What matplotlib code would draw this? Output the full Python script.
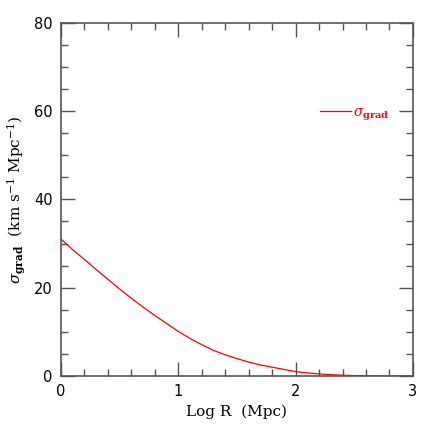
import matplotlib
matplotlib.use('Agg')
import matplotlib.pyplot as plt
from matplotlib.ticker import MultipleLocator

# Estimated from the reference curve
log_r = [0.0, 0.1, 0.2, 0.3, 0.4, 0.5, 0.6, 0.7, 0.8, 0.9, 1.0,
         1.1, 1.2, 1.3, 1.4, 1.5, 1.6, 1.7, 1.8, 1.9, 2.0,
         2.1, 2.2, 2.3, 2.4, 2.5, 2.6, 2.7, 2.8, 2.9, 3.0]
sigma_grad = [31.0, 28.6, 26.4, 24.1, 21.9, 19.7, 17.6, 15.6, 13.7, 11.9, 10.1,
              8.5, 7.1, 5.8, 4.8, 3.95, 3.15, 2.5, 2.0, 1.5, 1.0,
              0.7, 0.47, 0.3, 0.18, 0.1, 0.05, 0.02, 0.01, 0.0, 0.0]

plt.rcParams['mathtext.fontset'] = 'dejavuserif'

fig = plt.figure(figsize=(4.36, 4.36), dpi=100)
ax = fig.add_axes([0.140, 0.1376, 0.807, 0.810])

ax.plot(log_r, sigma_grad, color='red', lw=0.9, label=r'$\sigma_{\mathbf{grad}}$')

ax.set_xlim(0, 3)
ax.set_ylim(0, 80)
ax.xaxis.set_major_locator(MultipleLocator(1))
ax.xaxis.set_minor_locator(MultipleLocator(0.2))
ax.yaxis.set_major_locator(MultipleLocator(20))
ax.yaxis.set_minor_locator(MultipleLocator(5))
ax.tick_params(which='both', direction='in', top=True, right=True, color='#555555', width=1)
ax.tick_params(which='major', length=10, labelsize=10.5, pad=6)
ax.tick_params(which='minor', length=5)
for s in ax.spines.values():
    s.set_color('#555555')
    s.set_linewidth(1.2)

ax.set_xlabel('Log R  (Mpc)', family='DejaVu Serif', fontsize=11)
ax.set_ylabel(r'$\sigma_{\mathbf{grad}}$  (km s$^{-1}$ Mpc$^{-1}$)', family='DejaVu Serif', fontsize=11)

leg = ax.legend(loc='center left', bbox_to_anchor=(0.721, 0.742), frameon=False,
                handlelength=2.2, handletextpad=0.15, fontsize=10, borderaxespad=0)
for t in leg.get_texts():
    t.set_color('red')

fig.savefig('out.png', dpi=100)
